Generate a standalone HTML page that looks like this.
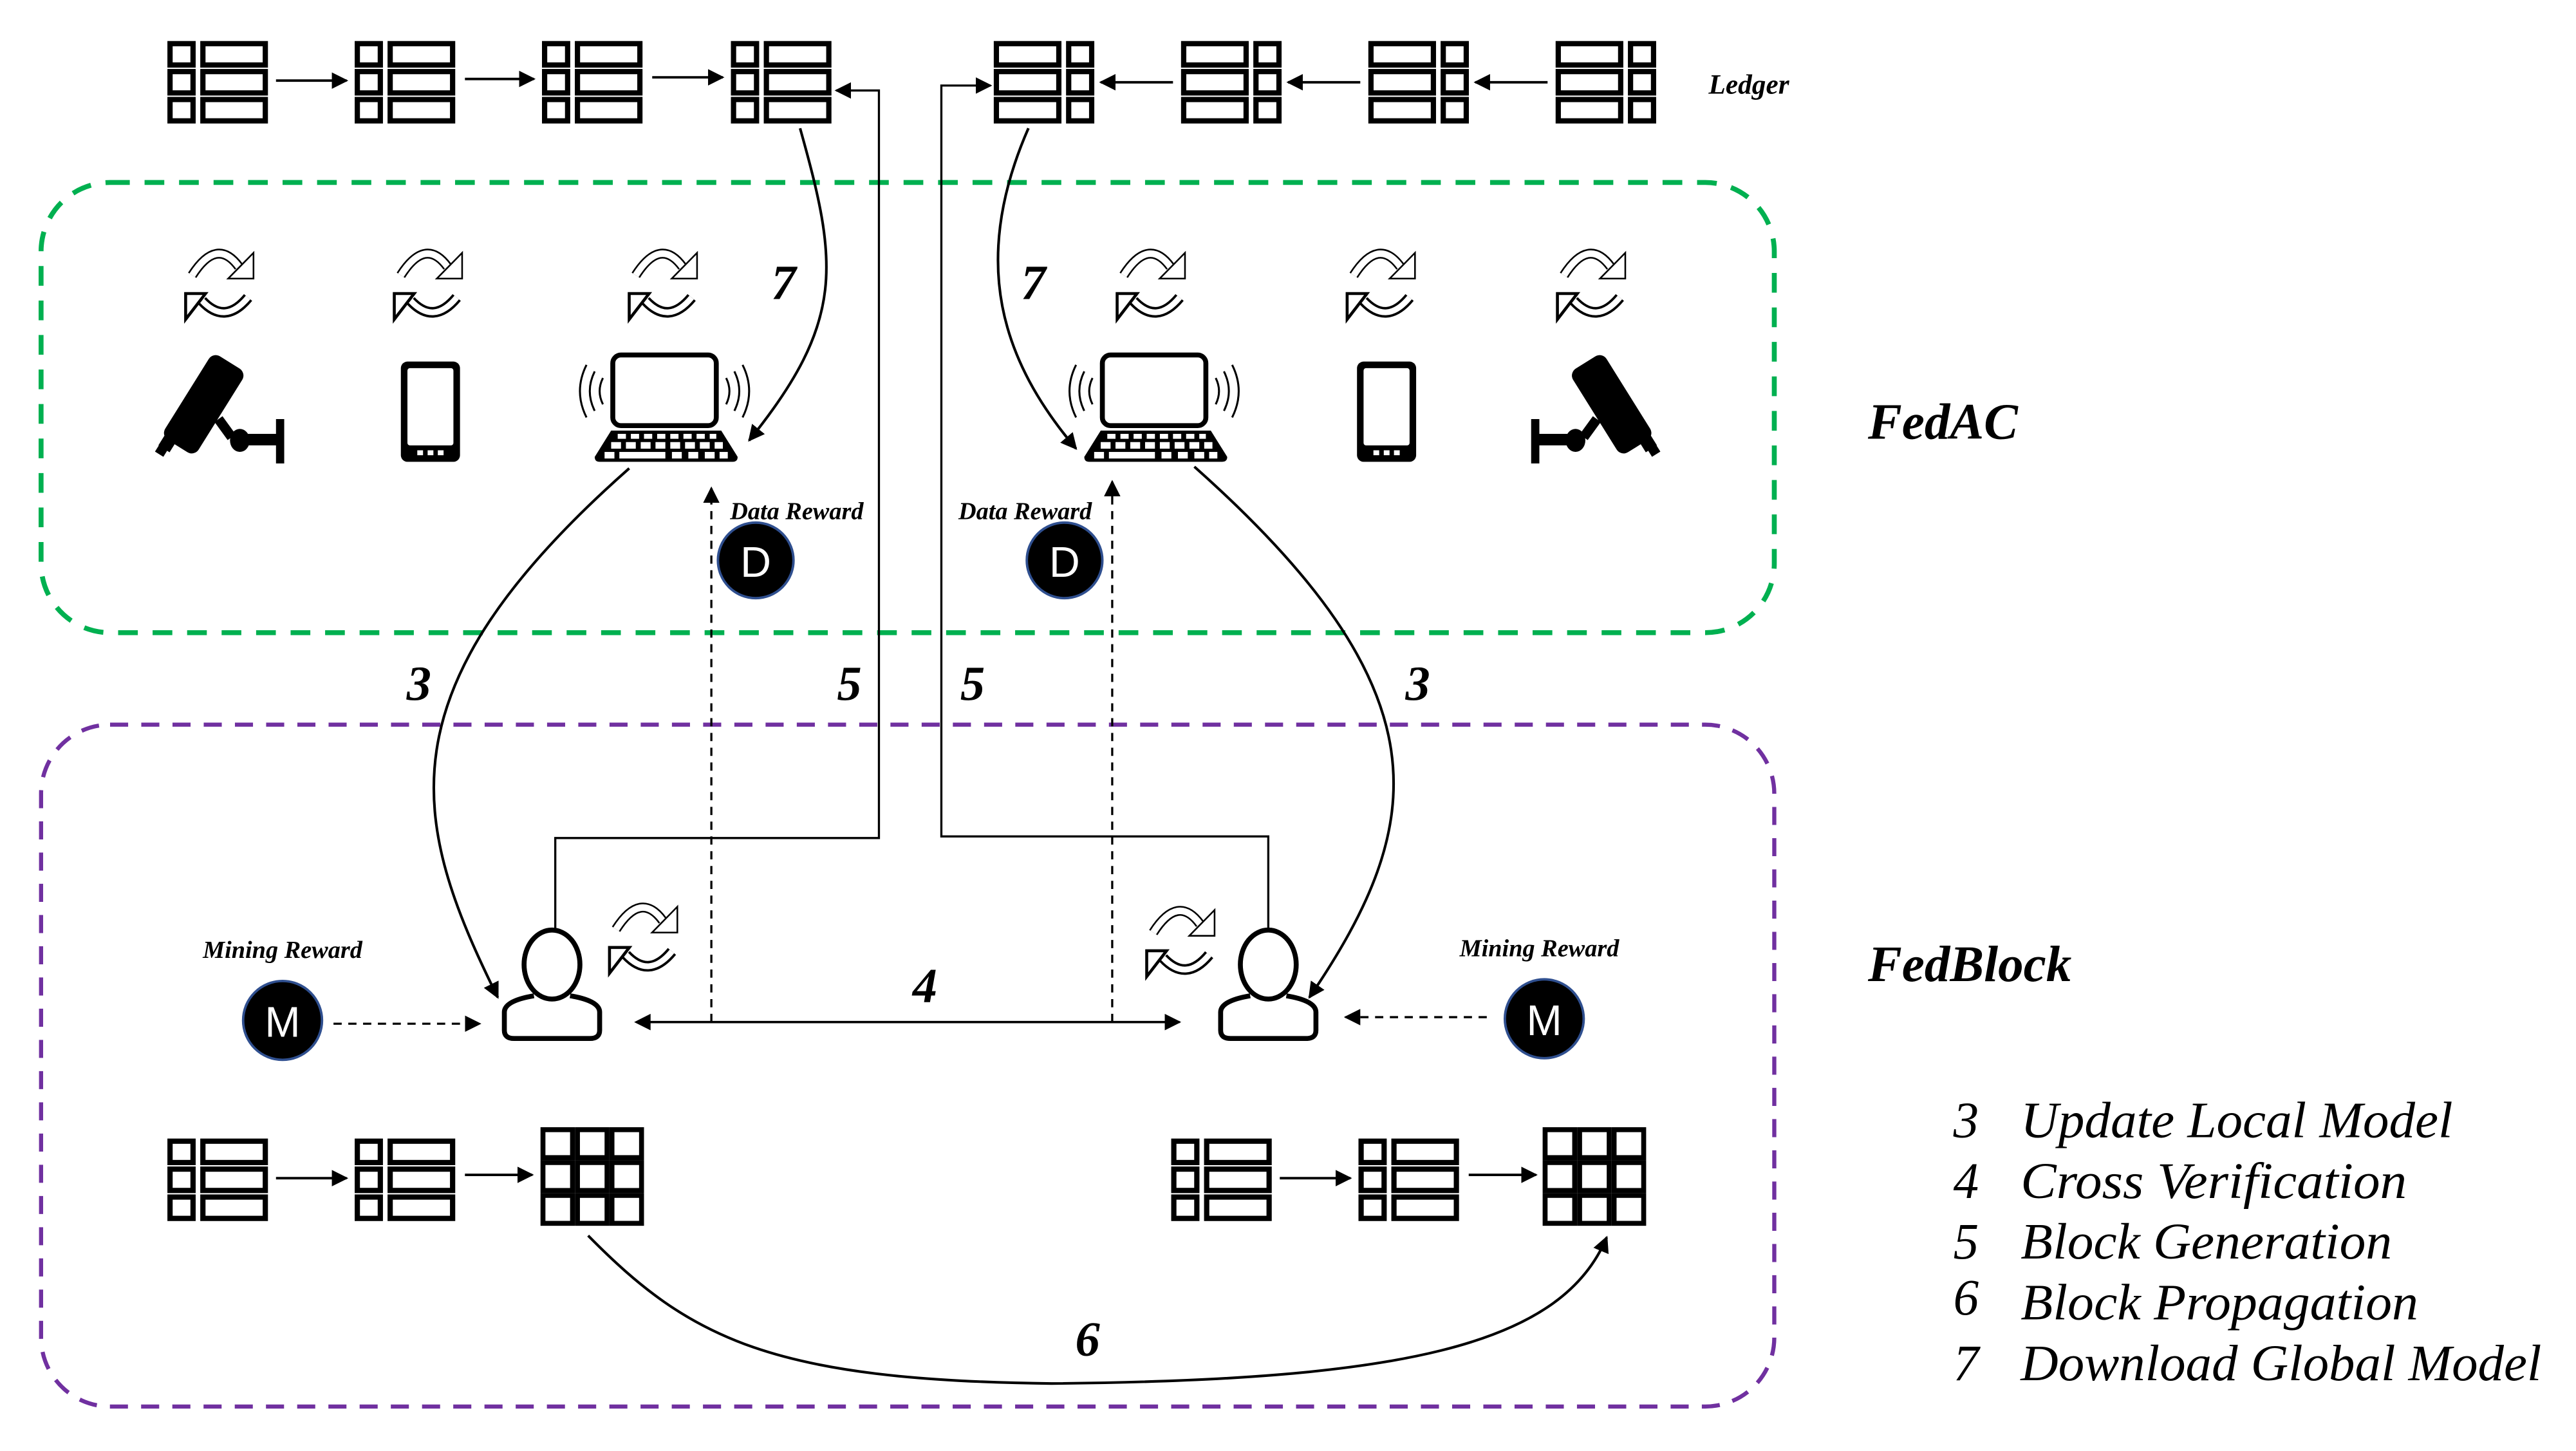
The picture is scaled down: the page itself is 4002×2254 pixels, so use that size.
<!DOCTYPE html>
<html><head><meta charset="utf-8"><style>html,body{margin:0;padding:0;background:#fff}svg{display:block}</style></head>
<body>
<svg width="4002" height="2254" viewBox="0 0 1568 883" xmlns="http://www.w3.org/2000/svg">
<defs>
<marker id="ah" markerWidth="10" markerHeight="10" refX="9" refY="5" orient="auto" markerUnits="userSpaceOnUse"><path d="M0,0 L10,5 L0,10 Z" fill="#000"/></marker>
<g id="blkL" fill="none" stroke="#000" stroke-width="3.2">
<rect x="1.5" y="1.5" width="14" height="13"/><rect x="21.5" y="1.5" width="38" height="13"/>
<rect x="1.5" y="18.5" width="14" height="13"/><rect x="21.5" y="18.5" width="38" height="13"/>
<rect x="1.5" y="35.5" width="14" height="13"/><rect x="21.5" y="35.5" width="38" height="13"/>
</g>
<g id="blkR" fill="none" stroke="#000" stroke-width="3.2">
<rect x="1.5" y="1.5" width="38" height="13"/><rect x="45.5" y="1.5" width="14" height="13"/>
<rect x="1.5" y="18.5" width="38" height="13"/><rect x="45.5" y="18.5" width="14" height="13"/>
<rect x="1.5" y="35.5" width="38" height="13"/><rect x="45.5" y="35.5" width="14" height="13"/>
</g>
<g id="grid" fill="none" stroke="#000" stroke-width="3">
<rect x="1.5" y="1.5" width="18" height="17"/><rect x="22.5" y="1.5" width="18" height="17"/><rect x="43.5" y="1.5" width="18" height="17"/>
<rect x="1.5" y="21.5" width="18" height="17"/><rect x="22.5" y="21.5" width="18" height="17"/><rect x="43.5" y="21.5" width="18" height="17"/>
<rect x="1.5" y="41.5" width="18" height="17"/><rect x="22.5" y="41.5" width="18" height="17"/><rect x="43.5" y="41.5" width="18" height="17"/>
</g>
<g id="ref">
<path d="M-18,-8.5 Q-3,-32 10.4,-13.7" fill="none" stroke="#000" stroke-width="6"/>
<path d="M-18,-8.5 Q-3,-32 10.4,-13.7" fill="none" stroke="#fff" stroke-width="4"/>
<path d="M19.3,-22.2 L19.3,-6.5 L3.9,-6.5 Z" fill="#fff" stroke="#000" stroke-width="1"/>
<path d="M-12,7 Q2,22 16,5" fill="none" stroke="#000" stroke-width="6.5"/>
<path d="M-12,7 Q2,22 16,5" fill="none" stroke="#fff" stroke-width="3.5"/>
<path d="M-22,2.6 L-9.9,2.6 L-22,18.3 Z" fill="#fff" stroke="#000" stroke-width="1.8"/>
</g>
<g id="phone">
<rect x="0" y="0" width="36" height="61" rx="4" fill="#000"/>
<rect x="4" y="4" width="28" height="47" rx="1.5" fill="#fff"/>
<rect x="10" y="54" width="3.5" height="3" fill="#fff"/><rect x="16.3" y="54" width="3.5" height="3" fill="#fff"/><rect x="22.5" y="54" width="3.5" height="3" fill="#fff"/>
</g>
<g id="laptop">
<rect x="21" y="2" width="63" height="43" rx="5" fill="#fff" stroke="#000" stroke-width="3"/>
<path d="M20,48 L87,48 L97,64 Q97,67 94,67 L13,67 Q10,67 10,64 Z" fill="#000"/>
<g fill="#fff">
<rect x="24" y="50" width="5" height="3"/><rect x="32" y="50" width="5" height="3"/><rect x="40" y="50" width="5" height="3"/><rect x="48" y="50" width="5" height="3"/><rect x="56" y="50" width="5" height="3"/><rect x="64" y="50" width="5" height="3"/><rect x="72" y="50" width="5" height="3"/><rect x="80" y="50" width="4" height="3"/>
<rect x="20" y="55" width="6" height="4"/><rect x="29" y="55" width="6" height="4"/><rect x="38" y="55" width="6" height="4"/><rect x="47" y="55" width="6" height="4"/><rect x="56" y="55" width="6" height="4"/><rect x="65" y="55" width="6" height="4"/><rect x="74" y="55" width="6" height="4"/><rect x="83" y="55" width="5" height="4"/>
<rect x="16" y="61" width="6" height="4"/><rect x="25" y="61" width="28" height="4"/><rect x="57" y="61" width="6" height="4"/><rect x="67" y="61" width="6" height="4"/><rect x="77" y="61" width="6" height="4"/><rect x="86" y="61" width="5" height="4"/>
</g>
<g fill="none" stroke="#000" stroke-width="1.2">
<path d="M15,16 Q11,24 15,32"/><path d="M10,12 Q4,24 10,36"/><path d="M5,8 Q-3,24 5,40"/>
<path d="M90,16 Q94,24 90,32"/><path d="M95,12 Q101,24 95,36"/><path d="M100,8 Q108,24 100,40"/>
</g>
</g>
<g id="cam">
<rect x="-30" y="-12" width="60" height="24" rx="5" fill="#000" transform="translate(124,246) rotate(-58)"/>
<rect x="-6" y="-4" width="12" height="8" fill="#000" transform="translate(103,268) rotate(-58)"/>
<rect x="-4" y="-3" width="8" height="6" fill="#000" transform="translate(99,273) rotate(-58)"/>
<path d="M133,255 L141,266" stroke="#000" stroke-width="6"/>
<ellipse cx="146" cy="268" rx="6" ry="7" fill="#000"/>
<rect x="149" y="264" width="20" height="7" fill="#000"/>
<rect x="168" y="255" width="5" height="27" fill="#000"/>
</g>
<g id="person">
<ellipse cx="0" cy="-3" rx="17" ry="21" fill="#fff" stroke="#000" stroke-width="3"/>
<path d="M-11,16 Q-29,19 -29,26 L-29,37 Q-29,42 -23,42 L23,42 Q29,42 29,37 L29,26 Q29,19 11,16" fill="none" stroke="#000" stroke-width="3"/>
</g>
</defs>

<rect x="25" y="111" width="1055" height="274" rx="42" fill="none" stroke="#00b050" stroke-width="3" stroke-dasharray="12,9"/>
<rect x="25" y="441" width="1055" height="415" rx="42" fill="none" stroke="#7030a0" stroke-width="2.5" stroke-dasharray="11,8"/>

<use href="#blkL" x="102" y="25"/><use href="#blkL" x="216" y="25"/><use href="#blkL" x="330" y="25"/><use href="#blkL" x="445" y="25"/>
<g stroke="#000" stroke-width="1.5" marker-end="url(#ah)">
<line x1="168" y1="49" x2="211" y2="49"/><line x1="283" y1="48" x2="325" y2="48"/><line x1="397" y1="47" x2="440" y2="47"/>
</g>
<use href="#blkR" x="605" y="25"/><use href="#blkR" x="719" y="25"/><use href="#blkR" x="833" y="25"/><use href="#blkR" x="947" y="25"/>
<g stroke="#000" stroke-width="1.5" marker-end="url(#ah)">
<line x1="714" y1="50" x2="670" y2="50"/><line x1="828" y1="50" x2="784" y2="50"/><line x1="942" y1="50" x2="898" y2="50"/>
</g>
<text x="1040" y="57" font-family="Liberation Serif, serif" font-style="italic" font-weight="bold" font-size="17">Ledger</text>

<use href="#ref" x="135" y="176"/><use href="#ref" x="262" y="176"/><use href="#ref" x="405" y="176"/>
<use href="#ref" x="702" y="176"/><use href="#ref" x="842" y="176"/><use href="#ref" x="970" y="176"/>
<use href="#ref" x="393" y="574"/><use href="#ref" x="720" y="576"/>

<use href="#cam"/>
<use href="#cam" transform="translate(1105,0) scale(-1,1)"/>
<use href="#phone" x="244" y="220"/><use href="#phone" x="826" y="220"/>
<use href="#laptop" x="352" y="214"/><use href="#laptop" x="650" y="214"/>

<g fill="none" stroke="#000" stroke-width="1.6">
<path d="M487,78 C510,160 515,195 456,268" marker-end="url(#ah)"/>
<path d="M626,78 C590,160 610,220 655,273" marker-end="url(#ah)"/>
<path d="M383,285 C230,420 250,500 303,607" marker-end="url(#ah)"/>
<path d="M727,284 C880,420 870,500 797,607" marker-end="url(#ah)"/>
</g>
<g fill="none" stroke="#000" stroke-width="1.3">
<path d="M338,565 L338,510 L535,510 L535,55 L509,55" marker-end="url(#ah)"/>
<path d="M772,565 L772,509 L573,509 L573,52 L603,52" marker-end="url(#ah)"/>
</g>
<g fill="none" stroke="#000" stroke-width="1.3" stroke-dasharray="5,4">
<line x1="433" y1="622" x2="433" y2="297" marker-end="url(#ah)"/>
<line x1="677" y1="622" x2="677" y2="293" marker-end="url(#ah)"/>
<line x1="203" y1="623" x2="292" y2="623" marker-end="url(#ah)"/>
<line x1="905" y1="619" x2="819" y2="619" marker-end="url(#ah)"/>
</g>
<line x1="390" y1="622" x2="718" y2="622" stroke="#000" stroke-width="1.4" marker-end="url(#ah)"/>
<path d="M386,622 L396,617 L396,627 Z"/>

<use href="#person" x="336" y="590"/><use href="#person" x="772" y="590"/>

<g stroke="#2f4f8f" stroke-width="1.5" fill="#000">
<circle cx="460" cy="341" r="23"/><circle cx="648" cy="341" r="23"/>
<circle cx="172" cy="621" r="24"/><circle cx="940" cy="620" r="24"/>
</g>
<g fill="#fff" font-family="Liberation Sans, sans-serif" font-size="26" text-anchor="middle">
<text x="460" y="351">D</text><text x="648" y="351">D</text>
<text x="172" y="631">M</text><text x="940" y="630">M</text>
</g>
<g font-family="Liberation Serif, serif" font-style="italic" font-weight="bold" font-size="15" text-anchor="middle">
<text x="485" y="316">Data Reward</text><text x="624" y="316">Data Reward</text>
<text x="172" y="583">Mining Reward</text><text x="937" y="582">Mining Reward</text>
</g>

<use href="#blkL" x="102" y="693"/><use href="#blkL" x="216" y="693"/><use href="#grid" x="329" y="686"/>
<use href="#blkL" x="713" y="693"/><use href="#blkL" x="827" y="693"/><use href="#grid" x="939" y="686"/>
<g stroke="#000" stroke-width="1.5" marker-end="url(#ah)">
<line x1="168" y1="717" x2="211" y2="717"/><line x1="283" y1="715" x2="324" y2="715"/>
<line x1="779" y1="717" x2="822" y2="717"/><line x1="894" y1="715" x2="935" y2="715"/>
</g>
<path d="M358,752 C420,815 470,840 640,842 C850,840 950,820 978,753" fill="none" stroke="#000" stroke-width="1.6" marker-end="url(#ah)"/>

<g font-family="Liberation Serif, serif" font-style="italic" font-weight="bold" font-size="30" text-anchor="middle">
<text x="477" y="182">7</text><text x="629" y="182">7</text>
<text x="255" y="426">3</text><text x="517" y="426">5</text><text x="592" y="426">5</text><text x="863" y="426">3</text>
<text x="563" y="610">4</text><text x="662" y="825">6</text>
</g>
<g font-family="Liberation Serif, serif" font-style="italic" font-weight="bold" font-size="31">
<text x="1137" y="267">FedAC</text><text x="1137" y="597">FedBlock</text>
</g>
<g font-family="Liberation Serif, serif" font-style="italic" font-size="31">
<text x="1189" y="692">3</text><text x="1230" y="692" textLength="263" lengthAdjust="spacingAndGlyphs">Update Local Model</text>
<text x="1189" y="729">4</text><text x="1230" y="729" textLength="235" lengthAdjust="spacingAndGlyphs">Cross Verification</text>
<text x="1189" y="766">5</text><text x="1230" y="766" textLength="226" lengthAdjust="spacingAndGlyphs">Block Generation</text>
<text x="1189" y="800">6</text><text x="1230" y="803" textLength="242" lengthAdjust="spacingAndGlyphs">Block Propagation</text>
<text x="1189" y="840">7</text><text x="1230" y="840" textLength="317" lengthAdjust="spacingAndGlyphs">Download Global Model</text>
</g>
</svg>
</body></html>
